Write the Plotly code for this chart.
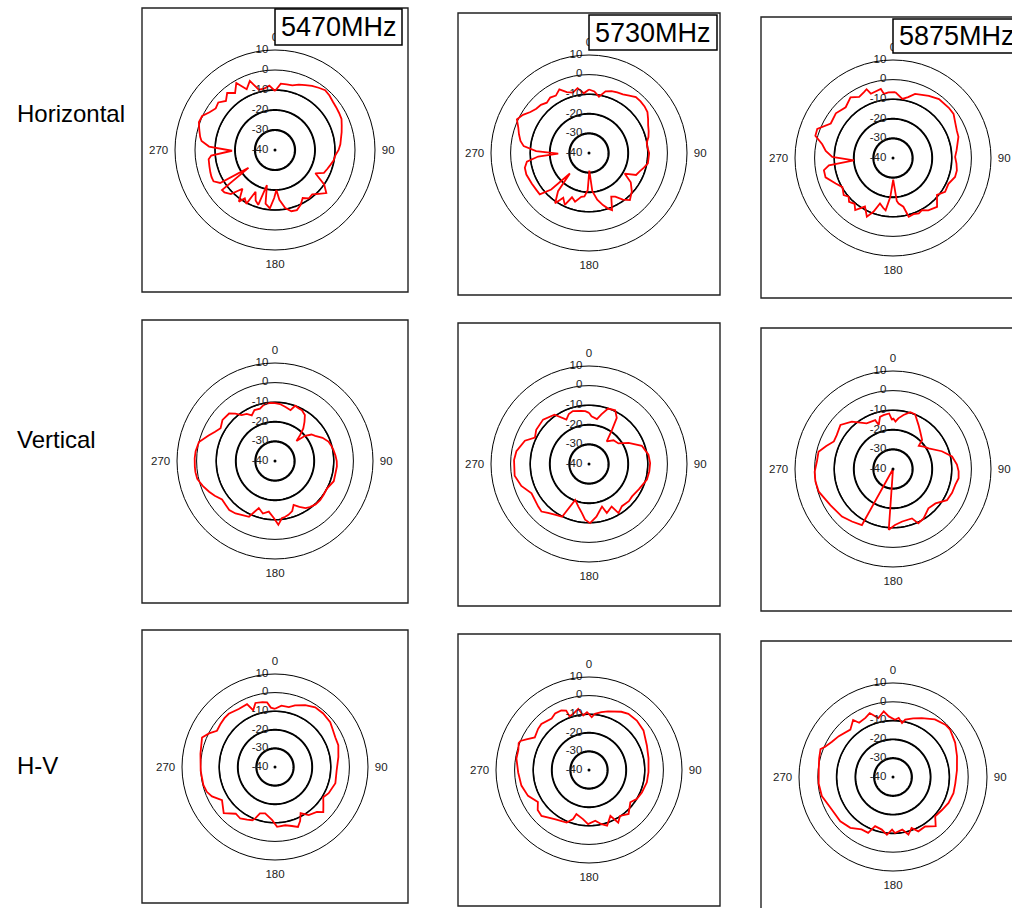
import plotly.graph_objects as go

W, H = 1012, 908

# ---------------- data ----------------
ROW_LABELS = ["Horizontal", "Vertical", "H-V"]
FREQ_LABELS = ["5470MHz", "5730MHz", "5875MHz"]
RING_DB = [-30, -20, -10, 0]
THICK_RINGS = [-30, -20, -10]
RAD_LABELS = [-40, -30, -20, -10, 0, 10]
ANG_TICKS = [0, 90, 180, 270]

# Horizontal 5470 MHz
H5470_T = [0,5,10,15,20,25,30,35,40,45,50,55,60,65,70,75,80,85,90,95,100,105,110,115,120,
           125,130,135,140,145,150,155,160,165,170,175,
           178,181,185,190,193,197,201,205,208,212,215,220,225,230,233,236,239,243,247,251,256,262,265,269,273,277,
           280,285,290,295,300,305,310,315,320,325,330,335,340,345,350,355]
H5470_R = [-10.5,-6.7,-6.7,-6.5,-5.2,-4.2,-3,-2,-1,-1.5,-2.3,-2.7,-3,-3.3,-4.5,-5.5,-6.5,-7.2,-8.2,-9.7,-10.2,-11.3,-12.2,-13,-16.7,
           -10,-6.5,-9,-11,-10.5,-12.3,-9.7,-8,-8.3,-10.5,-15,
           -20,-16,-10.7,-12.8,-22,-11.3,-13,-17,-9.5,-11.5,-8.5,-14.7,-8.8,-7,-6.8,-24,-8,-5.5,-5.5,-5.8,-6.2,-6.5,-8,-18.5,-7,-3,
           -2,-0.8,0.5,0.2,-2.2,-3.8,-3,-5.3,-2.8,-5.2,-1.3,-6.5,-3.2,-8.8,-8.8,-7.7]

# Vertical 5470 MHz
V5470_T = [0,5,11,17,20,24,28,33,37,41,44,47,50,54,58,64,70,75,79,85,
           90,95,100,109,118,125,131,137,143,147,152,157,161,166,170,173,177,181,187,193,
           199,205,211,217,223,228,234,240,245,251,257,262,266,272,277,284,291,296,301,308,
           316,320,324,329,333,338,344,348,352,356]
V5470_R = [-10.5,-10.8,-11.9,-12.9,-10,-10.5,-10.7,-12,-15,-18,-21.5,-25,-20,-17,-15.8,-13,-11,-10.2,-9.7,-9,
           -8.5,-8.3,-8.5,-8.3,-10,-9.8,-9.5,-9.7,-10.5,-11.4,-13.5,-15.7,-13,-11.7,-11,-10.7,-7.4,-10.8,-14,-12.5,
           -14.6,-8.6,-7.8,-6.5,-5.8,-6.3,-6.6,-4.5,-2.9,-1,0.7,1,1,1,0.8,0,-3.7,-6,-7.6,-6,
           -6.3,-8.5,-11,-12,-13.9,-12,-12.2,-11,-10.4,-10.3]

# H-V 5470 MHz
HV5470_T = [0,6,13,18,26,34,42,51,57,64,71,81,93,105,116,122,128,133,137,145,
            151,155,159,164,170,178,183,192,198,201,203,208,214,220,228,238,245,250,256,267,
            280,292,297,302,308,314,319,328,336,339,343,349,353,356]
HV5470_R = [-8.7,-6.8,-7,-5.2,-3,-1.3,-1.3,-1.8,-3,-3.9,-4,-5.5,-6.8,-6.4,-7.9,-9.4,-7,-4.5,-7,-8.4,
            -11.6,-8,-5.5,-7,-8.2,-7.8,-11.4,-14.5,-13.8,-10.4,-8.9,-8,-6.6,-7.2,-2.9,-6.4,-2.6,-1,-0.3,0,
            0.7,2.3,-0.2,-3.2,-2.7,-2.2,-2.1,-3.2,-3,-7.3,-4,-4.5,-5,-8]

# Horizontal 5730 MHz
H5730_T = [0,5,10,15,20,25,30,35,40,45,50,55,60,65,70,75,80,85,90,95,100,105,110,115,120,125,
           132,139,144,149,153,158,161,165,170,175,
           179,182,186,190,196,201,205,210,214,219,
           223,226,230,235,242,251,257,262,266,269,
           272,276,280,285,290,295,300,305,310,315,320,325,330,335,340,345,350,355]
H5730_R = [-7.6,-8.5,-10.8,-7.4,-6.4,-5.9,-5.4,-4.2,-2.8,-2.8,-3,-3.6,-5.2,-6.7,-7.6,-8.6,-10.1,-10,-9.3,-9.5,-9.5,-11,-12.5,-13.5,-19,-14,
           -10.6,-8.2,-10.6,-14,-15,-8.6,-10,-12.5,-15.8,-20.4,
           -31,-21,-17.7,-17.3,-14.2,-15.8,-10.8,-13.7,-9.1,-14.9,
           -25.7,-13.2,-7.2,-7.2,-6.9,-6.2,-6.4,-8,-14,-24.3,
           -13,-6.5,-4.5,-3,-1.6,0.6,-1.1,-3.5,-4.9,-5.3,-6.5,-5.5,-6.2,-4.2,-6.9,-8.1,-6.4,-9.4]

# Vertical 5730 MHz
V5730_T = [0,3,10,14,19,26,31,34,38,46,55,62,71,81,89,97,105,117,127,133,
           142,149,152,160,163,172,179,184,188,194,201,207,214,220,225,230,243,252,261,273,
           280,290,296,303,314,325,333,338,343,352,356]
V5730_R = [-13.9,-15.6,-16.7,-13.9,-10.1,-9.5,-12.5,-19,-25.3,-22.6,-21.7,-17.1,-11.5,-9.3,-8.8,-9,-9.4,-11.5,-12.5,-12.2,
           -12.7,-10.8,-15.4,-13.4,-17.3,-12.9,-9.8,-11.5,-14.6,-17.6,-20.4,-9.8,-8.8,-7.4,-5.7,-6.2,-7.1,-3.7,-1.6,-1.7,
           -2.4,-5.2,-9.3,-7.9,-7.4,-9.3,-14.6,-12.5,-11.8,-12.7,-13]

# H-V 5730 MHz
HV5730_T = [0,3,6,12,18,29,35,44,54,67,79,92,102,113,121,128,138,146,151,155,
            162,167,173,181,187,196,198,203,215,226,232,238,247,257,268,279,286,291,293,296,
            301,309,314,324,329,335,339,340,344,350,354,358]
HV5730_R = [-10,-11.6,-9.6,-8.2,-6.9,-4.2,-3.1,-3,-3.8,-6.2,-7.4,-8,-8.2,-9.1,-9.9,-11.8,-8.2,-10.2,-7.6,-12.8,
            -8.5,-10.1,-12.5,-10.9,-13.4,-15.4,-12.3,-9.3,-7.8,-4.5,-5,-7.6,-4.4,-2.7,-1.9,-0.5,-0.5,0.5,0,-2.5,
            -6,-4.8,-4.4,-5.8,-4.6,-4.7,-5.8,-9.4,-8.7,-6.6,-10.5,-8.9]

# Horizontal 5875 MHz
H5875_T = [2,9,14,19,30,38,48,54,60,67,72,83,89,95,101,107,115,123,130,138,
           146,151,155,160,165,168,173,175,179.5,184,188,191,196,200,204,210,216,220,225,229,
           233,240,246,254,260,263.5,266.6,271,276,281,286,291,299,308,317,325,331,336,339,341,
           350,352,356]
H5875_R = [-6.4,-9.5,-8,-5.4,-3.4,-1.9,-1.7,-1.8,-3.4,-4.6,-4.9,-7.3,-8.3,-7.5,-6.8,-6.9,-8.8,-8.3,-10.7,-6.4,
           -7.8,-9.6,-8.8,-9.5,-9,-14.6,-16.6,-18,-29,-20,-13,-14,-15.9,-10.8,-7.2,-11.4,-7.2,-9.5,-8.3,-10,
           -8.5,-10.2,-8,-4.2,-4.2,-7.1,-20,-9,-5.5,-3.2,1.2,1.4,-3.7,-3,-4.6,-2.2,-4.4,-3.3,-2.4,-5.3,
           -4.2,-7,-6.4]

# Vertical 5875 MHz
V5875_T = [0,3,6,11,17,22,30,36,45,48,54,60,70,78,86,92,98,104,112,120,
           129,138,148,155,159,170,178,184,195,209,218,227,240,253,261,268,276,283,289,295,
           301,310,319,330,340,342,346,350,356,359]
V5875_R = [-14,-15.8,-14,-11.9,-9.7,-9.9,-14,-16.4,-19,-22.3,-20.6,-19,-13.5,-9.2,-7.3,-6.5,-6.2,-7.2,-7.5,-8.2,
           -12.1,-13,-10.4,-9.4,-13,-12.8,-11.4,-8.9,-40,-7.3,-6,-4.4,-3.1,-0.4,0.1,0,-1,-1,-4,-6.7,
           -6.5,-5,-8,-13.1,-13.5,-16.4,-12.6,-12.1,-11.6,-15]

# H-V 5875 MHz
HV5875_T = [2,5.5,9.5,12,19,26,36,45,50,61,72,84,96,105,115,124,133,139,147,155,
            160,165,170,178,181,186,192,200,204,211,220,230,242,255,265,276,284,291,294,300,
            307,318,325,328,335,340,346,352,356]
HV5875_R = [-9.5,-8.4,-10.9,-8.8,-7,-5.1,-2.1,-0.6,-0.5,-2.2,-4.2,-5.8,-6.7,-6.7,-7.4,-8.6,-9.3,-5.4,-8.6,-8.1,
            -11.1,-8.3,-11.6,-10.2,-12,-9.1,-11.4,-12.2,-7.5,-7.5,-4.7,-3.4,-3.1,-0.8,-0.3,-0.3,0.5,1.3,-0.5,-2.5,
            -3.9,-6.1,-3,-6,-5.3,-3.8,-7.7,-4.7,-7.7]

# row-major: rows = H, V, H-V ; cols = 5470, 5730, 5875
PANELS = [
    (H5470_T, H5470_R), (H5730_T, H5730_R), (H5875_T, H5875_R),
    (V5470_T, V5470_R), (V5730_T, V5730_R), (V5875_T, V5875_R),
    (HV5470_T, HV5470_R), (HV5730_T, HV5730_R), (HV5875_T, HV5875_R),
]

# ---------------- layout geometry (pixels) ----------------
CENTERS = [(275, 150, 100), (589, 153, 98), (893, 158, 98),
           (275, 461, 98), (589, 464, 98), (893, 469, 98),
           (275, 767, 93), (589, 770, 93), (893, 777, 94)]
BOXES = [(142, 8, 408, 292), (458, 13, 720, 295), (761, 17, 1014, 298),
         (142, 320, 408, 603), (458, 323, 720, 606), (761, 328, 1014, 611),
         (142, 630, 408, 903), (458, 634, 720, 906), (761, 641, 1014, 910)]
FREQ_BOXES = [(275, 9, 402, 45), (589, 15, 717, 50), (893, 19, 1040, 53)]
ROW_Y = [113, 439, 765]

FONT = "Liberation Sans, Arial, sans-serif"
RED = "#ff0000"


def px_x(v):
    return v / W


def px_y(v):
    return 1 - v / H


fig = go.Figure()
layout = dict(width=W, height=H, margin=dict(l=0, r=0, t=0, b=0),
              paper_bgcolor="white", plot_bgcolor="white", showlegend=False)

ring_theta = list(range(0, 361, 2))
ring_widths = {-30: 2.2, -20: 1.9, -10: 1.6}

for idx, (T, R) in enumerate(PANELS):
    if len(T) != len(R):
        raise ValueError(f"panel {idx}: {len(T)} vs {len(R)}")
    key = "polar" if idx == 0 else f"polar{idx + 1}"
    cx, cy, rad = CENTERS[idx]
    layout[key] = dict(
        domain=dict(x=[px_x(cx - rad), px_x(cx + rad)], y=[px_y(cy + rad), px_y(cy - rad)]),
        bgcolor="rgba(0,0,0,0)",
        radialaxis=dict(range=[-40, 10], tickvals=RING_DB, showticklabels=False, ticks="",
                        showline=False, gridcolor="black", gridwidth=1),
        angularaxis=dict(direction="clockwise", rotation=90, tickvals=ANG_TICKS,
                         ticktext=[str(a) for a in ANG_TICKS], showgrid=False, showline=True,
                         linecolor="black", linewidth=1, ticks="outside", ticklen=4,
                         tickcolor="rgba(0,0,0,0)",
                         tickfont=dict(family=FONT, size=11.5, color="#222")),
    )
    for rv in THICK_RINGS:
        fig.add_trace(go.Scatterpolar(r=[rv] * len(ring_theta), theta=ring_theta, mode="lines",
                                      line=dict(color="black", width=ring_widths[rv]),
                                      hoverinfo="skip", subplot=key))
    fig.add_trace(go.Scatterpolar(r=list(R) + [R[0]], theta=list(T) + [T[0]], mode="lines",
                                  line=dict(color=RED, width=1.8), subplot=key, cliponaxis=False))
    fig.add_trace(go.Scatterpolar(r=RAD_LABELS, theta=[0] * len(RAD_LABELS), mode="markers+text",
                                  text=[str(v) for v in RAD_LABELS], textposition="middle left",
                                  marker=dict(size=9, opacity=0),
                                  textfont=dict(family=FONT, size=11.5, color="#222"),
                                  subplot=key, cliponaxis=False, hoverinfo="skip"))
    fig.add_trace(go.Scatterpolar(r=[-40], theta=[0], mode="markers",
                                  marker=dict(size=3, color="black"), subplot=key, hoverinfo="skip"))

shapes = []
for (x0, y0, x1, y1) in BOXES:
    shapes.append(dict(type="rect", xref="paper", yref="paper",
                       x0=px_x(x0), x1=px_x(x1), y0=px_y(y1), y1=px_y(y0),
                       line=dict(color="#222", width=1.4), fillcolor="rgba(0,0,0,0)", layer="below"))
for (x0, y0, x1, y1) in FREQ_BOXES:
    shapes.append(dict(type="rect", xref="paper", yref="paper",
                       x0=px_x(x0), x1=px_x(x1), y0=px_y(y1), y1=px_y(y0),
                       line=dict(color="black", width=1.5), fillcolor="white", layer="above"))
layout["shapes"] = shapes

annotations = []
for lab, y in zip(ROW_LABELS, ROW_Y):
    annotations.append(dict(text=lab, x=px_x(15), y=px_y(y), xref="paper", yref="paper",
                            xanchor="left", yanchor="middle", showarrow=False,
                            font=dict(family=FONT, size=24, color="black")))
for lab, (x0, y0, x1, y1) in zip(FREQ_LABELS, FREQ_BOXES):
    annotations.append(dict(text=lab, x=px_x(x0 + 4), y=px_y((y0 + y1) / 2), xref="paper", yref="paper",
                            xanchor="left", yanchor="middle", showarrow=False,
                            font=dict(family=FONT, size=27, color="black")))
layout["annotations"] = annotations

fig.update_layout(**layout)
fig.write_html("out.html", config={"displayModeBar": False},
               post_script="document.body.style.margin='0';document.body.style.overflow='hidden';")
